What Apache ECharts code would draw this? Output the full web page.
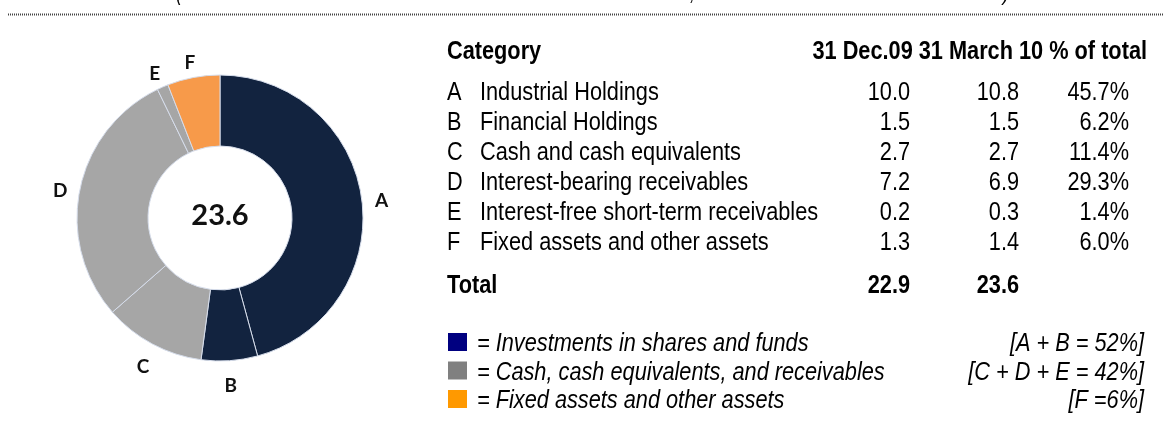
<!DOCTYPE html>
<html>
<head>
<meta charset="utf-8">
<script src="https://cdn.jsdelivr.net/npm/echarts@6/dist/echarts.min.js"></script>
<style>
  html, body { margin: 0; padding: 0; background: #fff; }
  #chart { width: 1163px; height: 434px; }
</style>
</head>
<body>
<div id="chart"></div>
<script>
const letters = ["A", "B", "C", "D", "E", "F"];
const categoryNames = [
  "Industrial Holdings",
  "Financial Holdings",
  "Cash and cash equivalents",
  "Interest-bearing receivables",
  "Interest-free short-term receivables",
  "Fixed assets and other assets",
];
const dec09Values = [10.0, 1.5, 2.7, 7.2, 0.2, 1.3];
const mar10Values = [10.8, 1.5, 2.7, 6.9, 0.3, 1.4];
const shareOfTotal = [45.7, 6.2, 11.4, 29.3, 1.4, 6.0];
const totals = [22.9, 23.6];
const columnHeaders = ["31 Dec.09", "31 March 10", "% of total"];
const sliceColors = ["#12233f", "#12233f", "#a6a6a6", "#a6a6a6", "#a6a6a6", "#f79a4a"];
const groupNames = [
  "= Investments in shares and funds",
  "= Cash, cash equivalents, and receivables",
  "= Fixed assets and other assets",
];
const groupShares = ["[A + B = 52%]", "[C + D + E = 42%]", "[F =6%]"];
const groupColors = ["#000080", "#808080", "#ff9900"];

// no Arial Narrow here, so squeeze Liberation Sans instead
const tableFont = '"Liberation Sans", Arial, sans-serif';
const squeeze = 0.82;

const pieCenter = [220, 218];
const labelRadius = 163;

let chartInstance = null;

function txt(x, y, text, opts) {
  return {
    type: "text",
    x: x,
    y: y,
    scaleX: squeeze,
    silent: true,
    style: Object.assign(
      {
        text: text,
        fill: "#000",
        fontFamily: tableFont,
        fontSize: 26.5,
        align: "left",
        verticalAlign: "middle",
      },
      opts || {},
    ),
  };
}

function buildGraphic() {
  const items = [];

  // dotted rule under the cut-off heading
  items.push({
    type: "line",
    silent: true,
    shape: { x1: 8, y1: 14.5, x2: 1163, y2: 14.5 },
    style: { stroke: "#444", lineWidth: 2, lineDash: [1, 1] },
  });
  items.push(txt(176, -6, "(", { fontStyle: "italic", fontSize: 22 }));
  items.push(txt(690, -6, ",", { fontStyle: "italic", fontSize: 22 }));
  items.push(txt(1003, -6, ")", { fontStyle: "italic", fontSize: 22 }));

  // centre of the donut
  items.push({
    type: "text",
    x: pieCenter[0],
    y: pieCenter[1] - 2,
    silent: true,
    style: {
      text: totals[1].toFixed(1),
      fill: "#111",
      fontFamily: "Lato",
      fontWeight: "bold",
      fontSize: 29,
      align: "center",
      verticalAlign: "middle",
    },
  });

  // table header
  items.push(txt(447, 52, "Category", { fontWeight: "bold" }));
  items.push(txt(1147, 52, columnHeaders.join(" "), { fontWeight: "bold", align: "right" }));

  const colRight = [910, 1019, 1129];
  letters.forEach((l, i) => {
    const y = 93 + i * 30;
    items.push(txt(447, y, l));
    items.push(txt(480, y, categoryNames[i]));
    items.push(txt(colRight[0], y, dec09Values[i].toFixed(1), { align: "right" }));
    items.push(txt(colRight[1], y, mar10Values[i].toFixed(1), { align: "right" }));
    items.push(txt(colRight[2], y, shareOfTotal[i].toFixed(1) + "%", { align: "right" }));
  });

  items.push(txt(447, 286, "Total", { fontWeight: "bold" }));
  items.push(txt(colRight[0], 286, totals[0].toFixed(1), { fontWeight: "bold", align: "right" }));
  items.push(txt(colRight[1], 286, totals[1].toFixed(1), { fontWeight: "bold", align: "right" }));

  // colour key
  groupNames.forEach((g, i) => {
    const y = 343 + i * 28.5;
    items.push({
      type: "rect",
      silent: true,
      shape: { x: 448, y: y - 10, width: 19, height: 18 },
      style: { fill: groupColors[i] },
    });
    items.push(txt(477, y + 1, g, { fontStyle: "italic", fontSize: 26.5 }));
    items.push(txt(1144, y + 1, groupShares[i], { fontStyle: "italic", fontSize: 26.5, align: "right" }));
  });

  return items;
}

// put each letter on a ring around the donut, at the middle of its slice
function placeLabel(params) {
  const total = mar10Values.reduce((a, b) => a + b, 0);
  let before = 0;
  for (let i = 0; i < params.dataIndex; i++) before += mar10Values[i];
  const mid = ((before + mar10Values[params.dataIndex] / 2) / total) * Math.PI * 2;
  return {
    x: pieCenter[0] + labelRadius * Math.sin(mid),
    y: pieCenter[1] + 5 - labelRadius * Math.cos(mid),
    align: "center",
    verticalAlign: "middle",
  };
}

function initializeChart() {
  chartInstance = echarts.init(document.getElementById("chart"), null, {
    renderer: "canvas",
  });

  const option = {
    animation: false,
    color: sliceColors,
    series: [
      {
        type: "pie",
        center: pieCenter,
        radius: [72, 143],
        startAngle: 90,
        clockwise: true,
        avoidLabelOverlap: false,
        silent: true,
        data: letters.map((l, i) => ({ name: l, value: mar10Values[i] })),
        itemStyle: {
          borderColor: "#d5dcea",
          borderWidth: 1,
        },
        label: {
          show: true,
          position: "outside",
          formatter: "{b}",
          fontFamily: "Lato",
          fontWeight: "bold",
          fontSize: 19,
          color: "#111",
        },
        labelLine: { show: false },
        labelLayout: placeLabel,
      },
    ],
    graphic: buildGraphic(),
  };

  chartInstance.setOption(option);
  window.onresize = chartInstance.resize;
}

document.addEventListener("DOMContentLoaded", initializeChart);
</script>
</body>
</html>
